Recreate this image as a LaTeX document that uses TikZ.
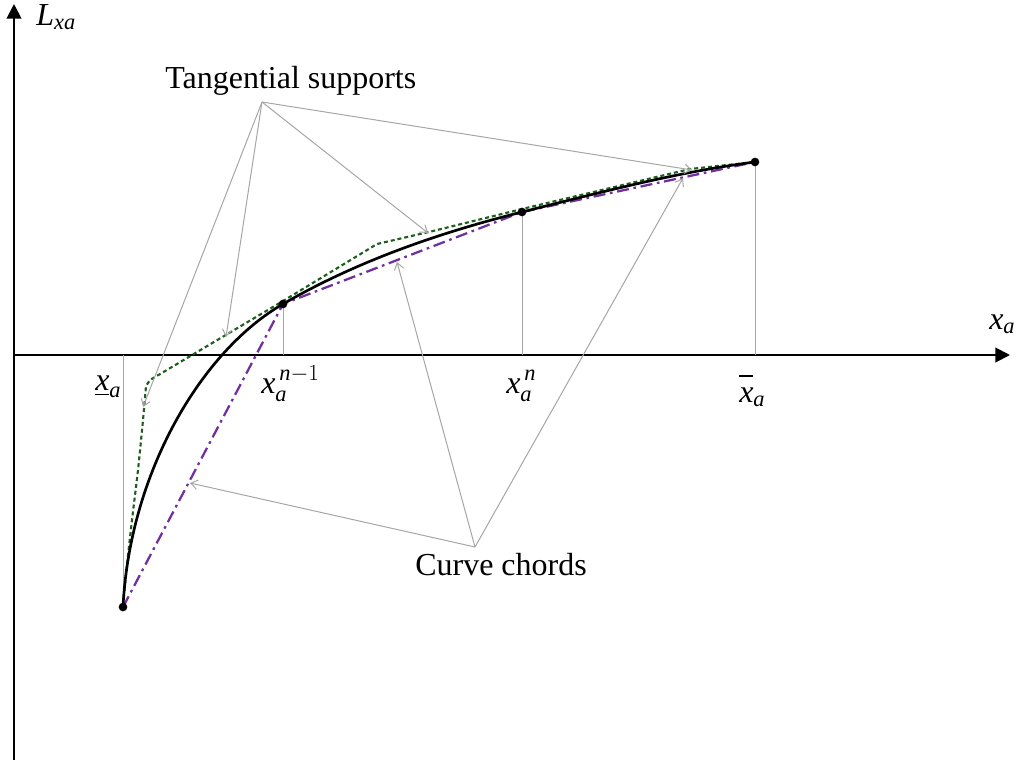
\documentclass[tikz,border=0pt]{standalone}
\usepackage{amsmath}
\usepackage{fontspec}
\setmainfont{Liberation Serif}
\usetikzlibrary{arrows.meta}
\begin{document}
\begin{tikzpicture}[x=0.75pt,y=-0.75pt,
  every node/.style={font=\fontsize{24}{28}\selectfont, inner sep=0pt},
  axisline/.style={line width=1.5pt, -{Triangle[length=11pt,width=11pt]}},
  guide/.style={draw=black!35, line width=0.75pt},
  pointer/.style={draw=black!35, line width=0.75pt, -{Straight Barb[length=5pt,width=7pt]}},
  curveline/.style={line width=2pt, black},
  tangline/.style={line width=1.6pt, draw={rgb,255:red,30;green,95;blue,30}, dash pattern=on 3pt off 2.2pt},
  chordline/.style={line width=1.7pt, draw={rgb,255:red,112;green,48;blue,160}, dash pattern=on 9pt off 3.5pt on 2pt off 3.5pt},
  dot/.style={circle, fill=black, inner sep=0pt, minimum size=6.5pt}
]
\useasboundingbox (0,0) rectangle (1024,761);

% axes
\coordinate (O) at (14,355);
\coordinate (Ybot) at (14,760);
\coordinate (Ytop) at (14,4);
\coordinate (Xend) at (1010,355);
\draw[axisline] (Ybot) -- (Ytop);
\draw[axisline] (O) -- (Xend);

% points
\coordinate (P0) at (123,607);
\coordinate (P1) at (283,304);
\coordinate (P2) at (522,212);
\coordinate (P3) at (755,162);
\coordinate (A0) at (123,355);
\coordinate (A1) at (283,355);
\coordinate (A2) at (522,355);
\coordinate (A3) at (755,355);

% guide verticals
\draw[guide] (A0) -- (P0);
\draw[guide] (P1) -- (A1);
\draw[guide] (P2) -- (A2);
\draw[guide] (P3) -- (A3);

% chords
\draw[chordline] (P0) -- (P1) -- (P2) -- (P3);

% tangential supports
\draw[tangline] plot[smooth] coordinates {(123,605) (127,565) (132,520) (138,470) (143,420) (146,386)}
  -- (150,380) -- (283,301) -- (377,244) -- (433,231) -- (522,209) -- (690,169) -- (P3);

% curve
\draw[curveline] (P0) .. controls (130,470) and (203,350) .. (P1)
  .. controls (358,260.5) and (442,232) .. (P2)
  .. controls (600,192.5) and (677,172) .. (P3);

% dots
\node[dot] (d0) at (P0) {};
\node[dot] (d1) at (P1) {};
\node[dot] (d2) at (P2) {};
\node[dot] (d3) at (P3) {};

% labels
\node[anchor=base west] (tang) at (165,88) {Tangential supports};
\node[anchor=base west] (chords) at (415,575) {Curve chords};
\node[anchor=base west] (ylab) at (36,25) {\textit{L}$_{\textit{xa}}$};
\node[anchor=base west] (xlab) at (989,329) {$\textit{x}_{\textit{a}}$};
\node[anchor=base west] (ux) at (95,390) {$\underline{\textit{x}}_{\textit{a}}$};
\node[anchor=base west] (xn1) at (261,393) {$\textit{x}_{\textit{a}}^{\,\textit{n}-1}$};
\node[anchor=base west] (xn) at (506,393) {$\textit{x}_{\textit{a}}^{\,\textit{n}}$};
\node[anchor=base west] (ox) at (739,402) {$\overline{\rule{0pt}{16pt}\textit{x}}_{\textit{a}}$};

% pointers
\coordinate (T) at (262,102);
\coordinate (C) at (475,547);
\coordinate (t1) at (143,407);
\coordinate (t2) at (226,337);
\coordinate (t3) at (428,233);
\coordinate (t4) at (692,170);
\coordinate (c1) at (190,483);
\coordinate (c2) at (397,262);
\coordinate (c3) at (683,178);
\draw[pointer] (T) -- (t1);
\draw[pointer] (T) -- (t2);
\draw[pointer] (T) -- (t3);
\draw[pointer] (T) -- (t4);
\draw[pointer] (C) -- (c1);
\draw[pointer] (C) -- (c2);
\draw[pointer] (C) -- (c3);
\end{tikzpicture}
\end{document}
